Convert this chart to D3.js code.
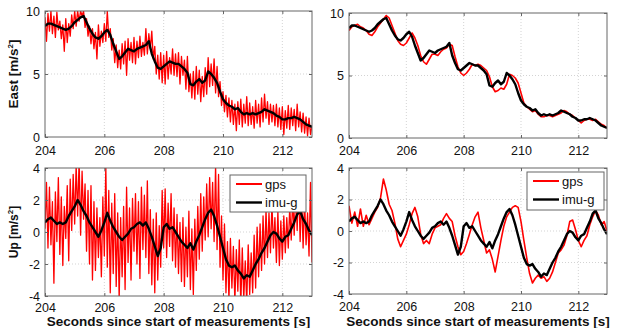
<!DOCTYPE html>
<html><head><meta charset="utf-8">
<script src="https://cdn.jsdelivr.net/npm/d3@7"></script>
<style>body{margin:0;background:#fff}svg text{font-family:"Liberation Sans",Arial,Helvetica,sans-serif}</style>
</head><body><svg id="c" width="617" height="328"></svg>
<script>
// ---------------- data ----------------
const tStart = 204, tEnd = 213;
const stepRaw = 0.05, stepSmooth = 0.1;
const xTicks = [204, 206, 208, 210, 212];
const eastTicks = [0, 5, 10];
const upTicks = [-4, -2, 0, 2, 4];
const seriesNames = ["gps", "imu-g"];

// imu-g (black), 0.1 s
const imuEast = [8.8,9.0,9.0,8.9,8.8,8.7,8.6,8.5,8.6,8.8,
 9.1,9.3,9.5,9.6,9.1,8.6,8.2,7.9,7.8,8.0,
 8.3,8.5,8.1,7.4,6.8,6.2,6.4,6.7,7.0,6.9,
 6.8,7.0,7.1,7.2,7.3,7.6,6.6,6.0,5.5,5.4,
 5.6,5.8,6.0,5.9,5.8,5.8,5.6,5.4,5.1,4.2,
 4.1,4.4,4.6,4.3,4.5,5.2,5.0,4.7,4.3,3.6,
 3.0,2.7,2.5,2.4,2.2,2.3,2.0,1.8,1.9,1.8,
 1.9,1.8,1.9,2.0,2.2,2.1,2.0,1.9,1.7,1.6,
 1.4,1.4,1.5,1.5,1.6,1.5,1.4,1.2,1.0,0.9,
 0.8];
const imuUp = [0.6,0.8,0.9,0.7,0.5,0.6,0.5,0.6,1.0,1.3,
 1.6,2.0,1.7,1.3,1.0,0.6,0.3,0.0,-0.3,0.1,
 0.6,1.2,0.7,0.3,0.0,-0.3,-0.5,-0.3,-0.1,0.2,
 0.3,0.5,0.6,0.4,0.6,0.2,-0.3,-0.9,-1.5,-1.0,
 0.3,0.5,0.2,0.3,0.0,-0.3,-0.6,-0.8,-1.0,-0.7,
 -1.1,-0.6,-0.2,0.3,0.8,1.2,1.4,1.0,0.4,-0.3,
 -1.0,-1.7,-2.1,-2.2,-2.1,-2.4,-2.6,-2.9,-2.7,-2.8,
 -2.4,-2.0,-1.7,-1.3,-1.0,-0.6,-0.2,0.0,-0.1,-0.4,
 -0.6,-0.3,-0.2,0.2,0.6,1.1,1.3,0.8,0.5,0.1,
 -0.2];

// gps smoothed (red, right column), 0.1 s
const gpsEastSmooth = [8.6,8.9,9.0,9.1,8.9,8.8,8.6,8.3,8.2,8.5,
 8.9,9.2,9.5,9.8,9.6,9.0,8.4,7.8,7.5,7.4,
 7.6,8.0,8.4,8.0,7.4,6.6,6.1,5.9,6.3,6.7,
 6.7,6.6,6.9,7.1,7.2,7.5,7.4,6.5,5.7,5.2,
 5.0,5.2,5.5,5.9,5.8,5.9,5.8,5.6,5.4,4.9,
 4.1,3.7,3.8,4.0,3.9,4.3,5.1,5.0,4.8,4.4,
 3.6,2.8,2.5,2.3,2.1,2.2,1.9,1.7,1.7,1.8,
 1.8,1.7,1.8,1.9,2.0,2.2,2.1,1.9,1.8,1.6,
 1.4,1.2,1.4,1.5,1.5,1.4,1.5,1.3,1.1,1.0,
 0.8];
const gpsUpSmooth = [1.6,0.5,1.2,0.3,1.4,0.3,1.0,0.4,0.8,1.2,
 1.5,2.1,3.3,2.6,1.7,1.3,0.5,-0.5,-1.0,-0.6,
 -0.2,0.4,1.1,1.5,0.9,-0.2,-0.8,-0.6,-0.8,-0.2,
 0.2,0.3,0.4,0.8,1.1,0.8,0.6,-0.3,-1.0,-1.5,
 -1.3,-0.8,-0.2,0.4,0.9,1.2,0.2,-0.6,-1.4,-1.2,
 -1.8,-2.6,-1.6,-0.6,0.3,0.9,1.2,1.5,1.6,1.5,
 0.6,-0.6,-1.7,-2.7,-3.3,-3.0,-2.8,-3.0,-2.9,-3.2,
 -3.0,-2.6,-2.0,-1.4,-1.2,-0.9,-0.3,0.6,0.7,0.1,
 -0.6,-1.0,-0.6,-0.3,0.4,0.9,1.3,1.0,0.4,0.6,
 0.0];

// gps raw (red, left column), 0.05 s
const gpsEastRaw = [
 9.5,7.6,9.8,8.4,10.0,8.2,9.6,7.9,9.9,8.5,9.2,7.8,8.9,6.8,9.4,7.5,9.0,8.0,9.7,8.6,
 10.0,8.8,10.0,9.2,10.0,9.6,10.0,8.7,9.4,8.0,8.8,7.4,8.6,7.0,8.3,6.2,8.9,7.2,8.4,7.5,
 9.0,7.6,10.0,7.9,8.6,6.9,7.8,5.9,7.3,5.5,6.9,5.4,7.4,5.8,7.6,4.9,7.8,6.1,7.5,5.9,
 7.9,5.8,7.6,6.3,8.0,6.4,7.5,6.5,8.6,6.6,8.2,7.0,8.4,6.2,7.2,5.0,6.5,4.6,6.7,4.3,
 6.5,4.2,6.8,4.6,6.3,5.0,7.0,4.9,6.6,4.8,6.7,4.2,6.4,4.9,6.1,3.8,6.4,3.6,5.0,3.1,
 5.2,3.0,5.6,3.4,5.3,2.8,4.8,3.2,5.5,3.4,6.3,4.0,5.8,4.1,6.2,3.5,5.6,3.2,4.4,2.5,
 3.6,2.0,3.3,1.6,3.1,1.2,2.9,1.0,2.6,0.5,2.8,1.0,3.0,0.8,2.6,1.1,3.2,0.9,2.7,1.0,
 2.4,0.7,2.9,1.1,2.6,0.8,3.1,1.2,3.4,1.5,2.8,1.0,2.6,1.2,2.5,0.9,2.6,0.8,2.3,0.6,
 2.4,0.2,2.1,0.7,2.5,0.6,2.3,0.9,2.2,0.5,2.6,0.8,2.0,0.4,1.9,0.3,1.6,0.1,1.5,0.2,
 0.9];
const gpsUpRaw = [
 0.2,3.1,-1.0,2.8,-0.8,1.9,-3.2,2.5,-0.6,3.4,-1.4,2.2,-2.1,1.6,-0.4,2.9,-1.8,3.3,0.1,3.6,
 0.5,4.2,1.0,4.5,-0.2,3.8,0.8,3.0,-1.2,2.6,-2.0,2.9,-3.0,1.9,-2.4,1.5,-1.6,0.9,-2.8,2.2,
 -1.5,4.1,-2.2,2.6,-3.8,1.8,-2.6,2.4,-3.4,1.2,-4.2,0.9,-2.8,1.6,-3.6,2.8,-1.9,1.5,-3.0,2.1,
 -1.2,2.4,-2.0,1.9,-2.9,2.8,-1.1,2.3,-1.6,3.2,-2.6,1.4,-3.3,0.8,-3.8,1.2,-3.0,0.4,-2.2,2.6,
 -1.0,2.7,-1.6,1.8,-0.9,2.4,-1.8,1.5,-2.2,1.1,-2.6,0.6,-3.1,0.9,-3.4,0.3,-2.8,1.3,-3.6,0.2,
 -3.9,0.8,-2.4,1.6,-1.7,2.4,-1.2,2.2,-0.5,3.0,-0.3,3.4,0.2,3.1,-0.6,4.2,-1.1,3.6,-2.2,1.0,
 -3.0,0.5,-3.8,-0.6,-4.3,-0.4,-3.5,-0.9,-4.4,-1.1,-3.7,-0.5,-4.6,-1.0,-4.2,-1.8,-4.5,-0.8,-3.9,-1.3,
 -3.8,-0.2,-3.5,0.3,-2.8,0.5,-2.4,1.0,-2.0,1.4,-1.6,1.2,-1.3,1.8,-1.0,0.9,-1.9,1.3,-2.1,0.7,
 -1.7,1.0,-1.3,0.9,-1.0,1.6,-0.5,2.1,-0.2,2.7,0.1,3.2,-0.6,2.4,-1.0,2.0,-0.8,1.2,-1.5,3.1,
 -1.9];

// ---------------- drawing ----------------
const svg = d3.select("#c");
const RED = "#ff0000", BLACK = "#000000";
const toPts = (arr, step) => arr.map((v, i) => [tStart + i * step, v]);

const panels = [
  {id:"tl", box:[45,312,11,137], dom:[0,10], ticks:eastTicks, red:toPts(gpsEastRaw,stepRaw), black:toPts(imuEast,stepSmooth), ylab:"East", legend:null, xlab:false, redW:1.3, pad:9},
  {id:"tr", box:[349,607,13,138], dom:[0,10], ticks:eastTicks, red:toPts(gpsEastSmooth,stepSmooth), black:toPts(imuEast,stepSmooth), ylab:null, legend:null, xlab:false, redW:1.6, pad:8},
  {id:"bl", box:[45,312,168,296], dom:[-4,4], ticks:upTicks, red:toPts(gpsUpRaw,stepRaw), black:toPts(imuUp,stepSmooth), ylab:"Up", legend:[230,175,76,37], xlab:true, redW:1.3, pad:7},
  {id:"br", box:[349,607,168,294], dom:[-4,4], ticks:upTicks, red:toPts(gpsUpSmooth,stepSmooth), black:toPts(imuUp,stepSmooth), ylab:null, legend:[527,172,77,38], xlab:true, redW:1.6, pad:8}
];

panels.forEach(p => {
  const [x0,x1,y0,y1] = p.box;
  const x = d3.scaleLinear().domain([tStart,tEnd]).range([x0,x1]);
  const y = d3.scaleLinear().domain(p.dom).range([y1,y0]);
  const g = svg.append("g");
  g.append("rect").attr("x",x0).attr("y",y0).attr("width",x1-x0).attr("height",y1-y0).attr("fill","#fff");
  // grid
  g.selectAll(".gx").data(xTicks.filter(t=>t>tStart)).join("line")
    .attr("x1",d=>x(d)).attr("x2",d=>x(d)).attr("y1",y0).attr("y2",y1)
    .attr("stroke","#c8c8c8").attr("stroke-width",0.8).attr("stroke-dasharray","1,2");
  g.selectAll(".gy").data(p.ticks.filter(t=>t>p.dom[0]&&t<p.dom[1])).join("line")
    .attr("x1",x0).attr("x2",x1).attr("y1",d=>y(d)).attr("y2",d=>y(d))
    .attr("stroke","#c8c8c8").attr("stroke-width",0.8).attr("stroke-dasharray","1,2");
  // clip
  svg.append("clipPath").attr("id","clip-"+p.id).append("rect")
    .attr("x",x0).attr("y",y0).attr("width",x1-x0).attr("height",y1-y0);
  const line = d3.line().x(d=>x(d[0])).y(d=>y(d[1]));
  const lg = g.append("g").attr("clip-path","url(#clip-"+p.id+")");
  lg.append("path").attr("d",line(p.red)).attr("fill","none").attr("stroke",RED).attr("stroke-width",p.redW).attr("stroke-linejoin","round");
  lg.append("path").attr("d",line(p.black)).attr("fill","none").attr("stroke",BLACK).attr("stroke-width",2.4).attr("stroke-linejoin","round");
  // axes
  const ax = (gen, tr) => {
    const a = g.append("g").attr("transform",tr).call(gen);
    a.select(".domain").remove();
    a.selectAll("line").attr("stroke","#666");
    a.selectAll("text").attr("font-size",12.5).attr("fill","#111");
    return a;
  };
  ax(d3.axisBottom(x).tickValues(xTicks).tickSizeInner(-3).tickSizeOuter(0).tickPadding(p.pad).tickFormat(d3.format("d")), `translate(0,${y1})`);
  ax(d3.axisTop(x).tickValues(xTicks).tickSizeInner(-3).tickSizeOuter(0).tickFormat(""), `translate(0,${y0})`);
  ax(d3.axisLeft(y).tickValues(p.ticks).tickSizeInner(-3).tickSizeOuter(0).tickPadding(5).tickFormat(d=>String(d).replace("−","-")), `translate(${x0},0)`);
  ax(d3.axisRight(y).tickValues(p.ticks).tickSizeInner(-3).tickSizeOuter(0).tickFormat(""), `translate(${x1},0)`);
  g.append("rect").attr("x",x0).attr("y",y0).attr("width",x1-x0).attr("height",y1-y0)
    .attr("fill","none").attr("stroke","#666").attr("stroke-width",1);
  // y label
  if (p.ylab) {
    const cy = (y0+y1)/2;
    const t = svg.append("text").attr("transform",`translate(18,${cy}) rotate(-90)`)
      .attr("text-anchor","middle").attr("font-size",p.ylab==="East"?13.5:12).attr("font-weight","bold").attr("fill","#111");
    t.append("tspan").text(p.ylab+" [m/s");
    t.append("tspan").attr("font-size",8).attr("dy",-5).text("2");
    t.append("tspan").attr("dy",5).text("]");
  }
  if (p.xlab) {
    svg.append("text").attr("x",(x0+x1)/2).attr("y",325.5).attr("text-anchor","middle")
      .attr("font-size",13.5).attr("font-weight","bold").attr("fill","#111")
      .text("Seconds since start of measurements [s]");
  }
  if (p.legend) {
    const [lx,ly,lw,lh] = p.legend;
    const L = svg.append("g");
    L.append("rect").attr("x",lx).attr("y",ly).attr("width",lw).attr("height",lh)
      .attr("fill","#fff").attr("stroke","#666").attr("stroke-width",1);
    const items = [{n:seriesNames[0],c:RED,w:2},{n:seriesNames[1],c:BLACK,w:2.4}];
    items.forEach((it,i)=>{
      const yy = ly + 9 + i*18.5;
      L.append("line").attr("x1",lx+6).attr("x2",lx+32).attr("y1",yy).attr("y2",yy).attr("stroke",it.c).attr("stroke-width",it.w);
      L.append("text").attr("x",lx+35).attr("y",yy+4.5).attr("font-size",13).attr("fill","#111").text(it.n);
    });
  }
});
</script></body></html>
